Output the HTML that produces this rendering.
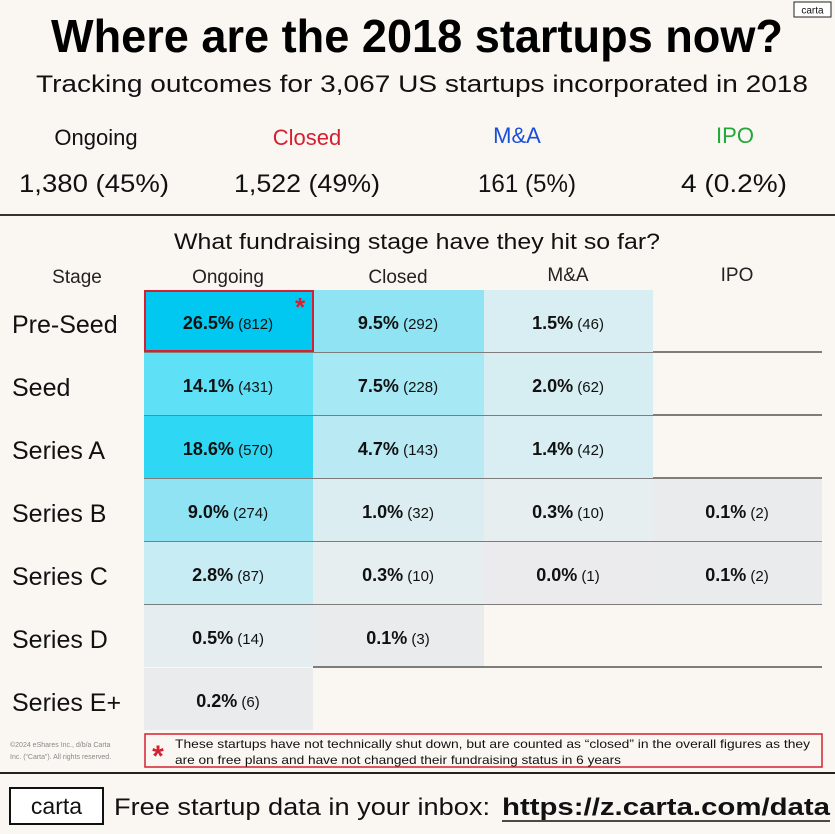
<!DOCTYPE html>
<html><head><meta charset="utf-8"><style>
body{margin:0;background:#faf7f3;}
svg{display:block;font-family:"Liberation Sans",sans-serif;}
</style></head><body>
<svg width="835" height="834" viewBox="0 0 835 834" xmlns="http://www.w3.org/2000/svg">
<rect width="835" height="834" fill="#faf7f3"/>
<rect x="794" y="2" width="37" height="15" fill="#fff" stroke="#222" stroke-width="1"/>
<text x="812.5" y="13.5" font-size="10" text-anchor="middle" fill="#111">carta</text>
<text x="417" y="52" font-size="46" font-weight="bold" text-anchor="middle" textLength="732" lengthAdjust="spacingAndGlyphs" fill="#000">Where are the 2018 startups now?</text>
<text x="422" y="92" font-size="24" text-anchor="middle" textLength="772" lengthAdjust="spacingAndGlyphs" fill="#111">Tracking outcomes for 3,067 US startups incorporated in 2018</text>
<g font-size="22" text-anchor="middle">
<text x="96" y="145" fill="#111">Ongoing</text>
<text x="307" y="145" fill="#d42030">Closed</text>
<text x="517" y="143" fill="#1a4fd8">M&amp;A</text>
<text x="735" y="143" fill="#22a83a">IPO</text>
</g>
<g font-size="25" text-anchor="middle" fill="#111">
<text x="94" y="192" textLength="150" lengthAdjust="spacingAndGlyphs">1,380 (45%)</text>
<text x="307" y="192" textLength="146" lengthAdjust="spacingAndGlyphs">1,522 (49%)</text>
<text x="527" y="192" textLength="98" lengthAdjust="spacingAndGlyphs">161 (5%)</text>
<text x="734" y="192" textLength="106" lengthAdjust="spacingAndGlyphs">4 (0.2%)</text>
</g>
<line x1="0" y1="215" x2="835" y2="215" stroke="#333" stroke-width="2"/>
<text x="417" y="249" font-size="22" text-anchor="middle" textLength="486" lengthAdjust="spacingAndGlyphs" fill="#111">What fundraising stage have they hit so far?</text>
<g font-size="19" text-anchor="middle" fill="#222">
<text x="77" y="283">Stage</text>
<text x="228" y="283">Ongoing</text>
<text x="398" y="283">Closed</text>
<text x="568" y="281">M&amp;A</text>
<text x="737" y="281">IPO</text>
</g>
<g stroke="#555" stroke-width="1.5">
<line x1="144" y1="352" x2="822" y2="352"/>
<line x1="144" y1="415" x2="822" y2="415"/>
<line x1="144" y1="478" x2="822" y2="478"/>
<line x1="144" y1="541" x2="822" y2="541"/>
<line x1="144" y1="604" x2="822" y2="604"/>
<line x1="313" y1="667" x2="822" y2="667"/>
</g>
<g>
<rect x="144" y="290" width="169" height="62" fill="#00c8f0"/>
<rect x="313" y="290" width="171" height="62" fill="#8fe3f2"/>
<rect x="484" y="290" width="169" height="62" fill="#d8eef2"/>
<rect x="144" y="353" width="169" height="62" fill="#5ee0f6"/>
<rect x="313" y="353" width="171" height="62" fill="#a6e8f4"/>
<rect x="484" y="353" width="169" height="62" fill="#d6edf2"/>
<rect x="144" y="416" width="169" height="62" fill="#2ed8f4"/>
<rect x="313" y="416" width="171" height="62" fill="#b9eaf3"/>
<rect x="484" y="416" width="169" height="62" fill="#d9eef2"/>
<rect x="144" y="479" width="169" height="62" fill="#8fe3f2"/>
<rect x="313" y="479" width="171" height="62" fill="#dcedf1"/>
<rect x="484" y="479" width="169" height="62" fill="#e6eef0"/>
<rect x="653" y="479" width="169" height="62" fill="#eaebed"/>
<rect x="144" y="542" width="169" height="62" fill="#c8ecf3"/>
<rect x="313" y="542" width="171" height="62" fill="#e6eef0"/>
<rect x="484" y="542" width="169" height="62" fill="#ebebed"/>
<rect x="653" y="542" width="169" height="62" fill="#eaebed"/>
<rect x="144" y="605" width="169" height="62" fill="#e5edf0"/>
<rect x="313" y="605" width="171" height="61" fill="#eaebed"/>
<rect x="144" y="668" width="169" height="62" fill="#e9ebed"/>
</g>
<rect x="145" y="291" width="168" height="60" fill="none" stroke="#d42030" stroke-width="2"/>
<text x="300" y="316" font-size="26" font-weight="bold" fill="#d42030" text-anchor="middle">*</text>
<g font-size="25" fill="#111">
<text x="12" y="333">Pre-Seed</text>
<text x="12" y="396">Seed</text>
<text x="12" y="459">Series A</text>
<text x="12" y="522">Series B</text>
<text x="12" y="585">Series C</text>
<text x="12" y="648">Series D</text>
<text x="12" y="711">Series E+</text>
</g>
<g font-size="18" text-anchor="middle" fill="#111">
<text x="228" y="329"><tspan font-weight="bold">26.5%</tspan><tspan font-size="15"> (812)</tspan></text>
<text x="398" y="329"><tspan font-weight="bold">9.5%</tspan><tspan font-size="15"> (292)</tspan></text>
<text x="568" y="329"><tspan font-weight="bold">1.5%</tspan><tspan font-size="15"> (46)</tspan></text>
<text x="228" y="392"><tspan font-weight="bold">14.1%</tspan><tspan font-size="15"> (431)</tspan></text>
<text x="398" y="392"><tspan font-weight="bold">7.5%</tspan><tspan font-size="15"> (228)</tspan></text>
<text x="568" y="392"><tspan font-weight="bold">2.0%</tspan><tspan font-size="15"> (62)</tspan></text>
<text x="228" y="455"><tspan font-weight="bold">18.6%</tspan><tspan font-size="15"> (570)</tspan></text>
<text x="398" y="455"><tspan font-weight="bold">4.7%</tspan><tspan font-size="15"> (143)</tspan></text>
<text x="568" y="455"><tspan font-weight="bold">1.4%</tspan><tspan font-size="15"> (42)</tspan></text>
<text x="228" y="518"><tspan font-weight="bold">9.0%</tspan><tspan font-size="15"> (274)</tspan></text>
<text x="398" y="518"><tspan font-weight="bold">1.0%</tspan><tspan font-size="15"> (32)</tspan></text>
<text x="568" y="518"><tspan font-weight="bold">0.3%</tspan><tspan font-size="15"> (10)</tspan></text>
<text x="737" y="518"><tspan font-weight="bold">0.1%</tspan><tspan font-size="15"> (2)</tspan></text>
<text x="228" y="581"><tspan font-weight="bold">2.8%</tspan><tspan font-size="15"> (87)</tspan></text>
<text x="398" y="581"><tspan font-weight="bold">0.3%</tspan><tspan font-size="15"> (10)</tspan></text>
<text x="568" y="581"><tspan font-weight="bold">0.0%</tspan><tspan font-size="15"> (1)</tspan></text>
<text x="737" y="581"><tspan font-weight="bold">0.1%</tspan><tspan font-size="15"> (2)</tspan></text>
<text x="228" y="644"><tspan font-weight="bold">0.5%</tspan><tspan font-size="15"> (14)</tspan></text>
<text x="398" y="644"><tspan font-weight="bold">0.1%</tspan><tspan font-size="15"> (3)</tspan></text>
<text x="228" y="707"><tspan font-weight="bold">0.2%</tspan><tspan font-size="15"> (6)</tspan></text>
</g>
<text x="10" y="747" font-size="7" fill="#888">©2024 eShares Inc., d/b/a Carta</text>
<text x="10" y="759" font-size="7" fill="#888">Inc. (“Carta”). All rights reserved.</text>
<rect x="145" y="734" width="677" height="33" fill="none" stroke="#d42030" stroke-width="1.5"/>
<text x="158" y="766" font-size="30" font-weight="bold" fill="#d42030" text-anchor="middle">*</text>
<text x="175" y="748" font-size="12" fill="#111" textLength="635" lengthAdjust="spacingAndGlyphs">These startups have not technically shut down, but are counted as “closed” in the overall figures as they</text>
<text x="175" y="764" font-size="12" fill="#111" textLength="446" lengthAdjust="spacingAndGlyphs">are on free plans and have not changed their fundraising status in 6 years</text>
<line x1="0" y1="773" x2="835" y2="773" stroke="#222" stroke-width="2"/>
<rect x="10" y="788" width="93" height="36" fill="#fff" stroke="#111" stroke-width="2"/>
<text x="56.5" y="814" font-size="23" text-anchor="middle" fill="#111">carta</text>
<text x="114" y="815" font-size="24" fill="#111" textLength="376" lengthAdjust="spacingAndGlyphs">Free startup data in your inbox:</text>
<text x="502" y="815" font-size="24" font-weight="bold" fill="#111" textLength="328" lengthAdjust="spacingAndGlyphs">https://z.carta.com/data</text>
<line x1="502" y1="821" x2="830" y2="821" stroke="#111" stroke-width="1.5"/>
</svg>
</body></html>
